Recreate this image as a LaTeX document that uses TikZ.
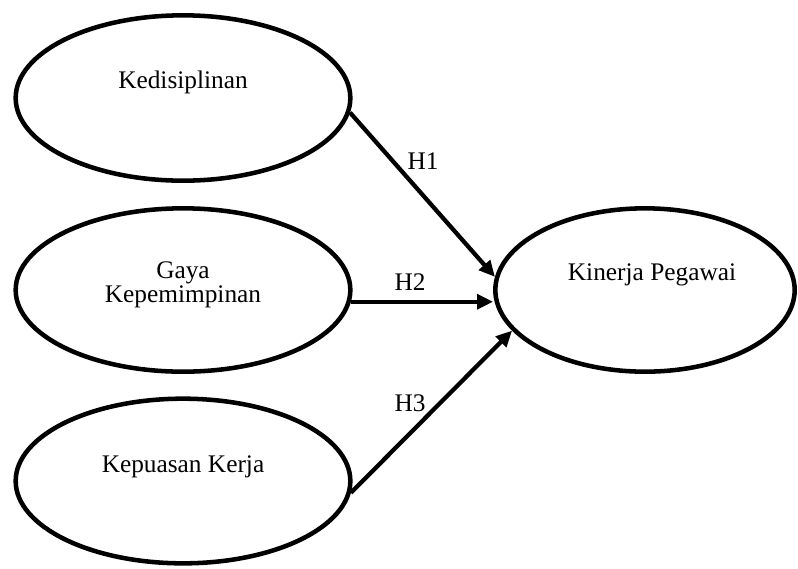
\documentclass[tikz,border=0pt]{standalone}
\usepackage{fontspec}
\setmainfont{Liberation Serif}
\usepackage{tikz}
\usetikzlibrary{positioning,arrows.meta,shapes.geometric}

\tikzset{
  var/.style={ellipse,draw,line width=3.4pt,inner sep=0pt},
  txt/.style={anchor=base,font=\fontsize{19}{16.5}\selectfont,align=center,inner sep=0pt},
  path/.style={line width=3.2pt,-{Triangle[length=12pt,width=11pt]}}
}

\begin{document}
\begin{tikzpicture}[x=0.75pt,y=-0.75pt]
  \useasboundingbox (0,0) rectangle (798,568);
  % exogenous variables on the left
  \node[var,minimum width=251pt,minimum height=124pt] (kd) at (183,98) {};
  \node[var,minimum width=251pt,minimum height=122.5pt] (gk) at (183,290) {};
  \node[var,minimum width=251pt,minimum height=123.5pt] (kk) at (183,481) {};
  % endogenous variable
  \node[var,minimum width=224.5pt,minimum height=122.5pt] (kp) at (645,290) {};
  \node[txt] (kdt) at (183,88) {Kedisiplinan};
  \node[txt] (gkt) at (183,302) {Gaya\\Kepemimpinan};
  \node[txt] (kkt) at (183,472) {Kepuasan Kerja};
  \node[txt] (kpt) at (652,280) {Kinerja Pegawai};
  % hypotheses
  \draw[path] (kd.-5) -- (kp.175);
  \draw[path] (gk.-4) -- (gk.-4 -| kp.west);
  \draw[path] (kk.-4) -- (kp.197);
  \node[txt] (h1) at (423,169) {H1};
  \node[txt] (h2) at (410,290) {H2};
  \node[txt] (h3) at (410,411) {H3};
\end{tikzpicture}
\end{document}
